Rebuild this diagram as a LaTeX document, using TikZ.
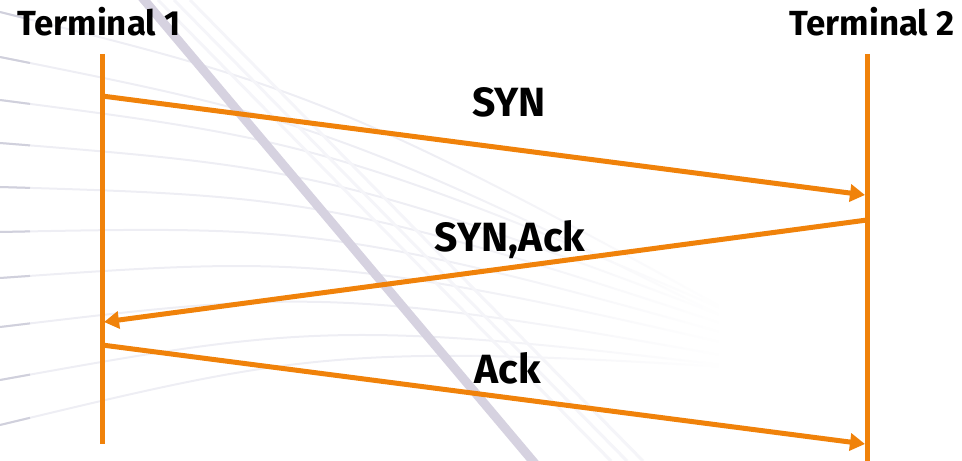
\documentclass[tikz,border=0pt]{standalone}
\usepackage{fontspec}
\setmainfont{Fira Sans}[BoldFont={* Bold}]
\usetikzlibrary{arrows.meta,fadings}
\definecolor{msgorange}{RGB}{240,130,10}
\definecolor{bandgray}{RGB}{214,210,224}
\definecolor{fanline}{RGB}{238,238,244}
\definecolor{fanstub}{RGB}{208,208,220}
\definecolor{streak}{RGB}{245,245,249}
\tikzfading[name=fanfade, left color=transparent!100, right color=transparent!0]
\tikzset{
  lifeline/.style={draw=msgorange, line width=5bp},
  message/.style={draw=msgorange, line width=5bp, -{Triangle[length=15bp,width=17bp]}},
  termlabel/.style={font=\bfseries\fontsize{35}{38}\selectfont, inner sep=0pt, anchor=base},
  msglabel/.style={font=\bfseries\fontsize{41}{44}\selectfont, inner sep=0pt, anchor=base}
}
\begin{document}
\begin{tikzpicture}[x=1bp,y=-1bp]
\useasboundingbox (0,0) rectangle (962,461);
% faint background fan of curves
\foreach \y/\a in {12/0.25, 57/0.2, 100/0.13, 143/0.08, 187/0.03, 232/-0.02, 278/-0.07, 327/-0.12, 380/-0.18, 425/-0.24}{
  \draw[fanline, line width=2bp] (0,\y) .. controls (350,{\y+\a*350}) .. (1000,{\y+\a*1000+200});
  \draw[fanstub, line width=2bp] (0,\y) -- (30,{\y+\a*30});
}
% the fan dies away towards the right
\fill[white, path fading=fanfade] (420,-1) rectangle (720,462);
\fill[white] (719,-1) rectangle (963,462);
% faint streaks beside the diagonal band
\foreach \dx in {18,34,50}{
  \draw[streak, line width=3bp] ({140+\dx},0) -- ({533+\dx+60},461);
}
% diagonal band
\draw[bandgray, line width=9bp] (140,-5) -- (537,466);

% lifelines
\node[termlabel] (t1) at (99,36) {Terminal 1};
\node[termlabel] (t2) at (872,36) {Terminal 2};
\coordinate (t1top) at (102,54);
\coordinate (t1bot) at (102,444);
\coordinate (t2top) at (867,54);
\coordinate (t2bot) at (867,465);
\draw[lifeline] (t1top) -- (t1bot);
\draw[lifeline] (t2top) -- (t2bot);

% messages
\coordinate (syn1) at (102,96);
\coordinate (syn2) at (865,195);
\coordinate (sa1) at (867,220);
\coordinate (sa2) at (104,322);
\coordinate (ack1) at (102,345);
\coordinate (ack2) at (865,444);
\draw[message] (syn1) -- (syn2);
\draw[message] (sa1) -- (sa2);
\draw[message] (ack1) -- (ack2);

\node[msglabel] (lsyn) at (509,117) {SYN};
\node[msglabel] (lsa) at (510,252) {SYN,Ack};
\node[msglabel] (lack) at (508,384) {Ack};
\end{tikzpicture}
\end{document}
